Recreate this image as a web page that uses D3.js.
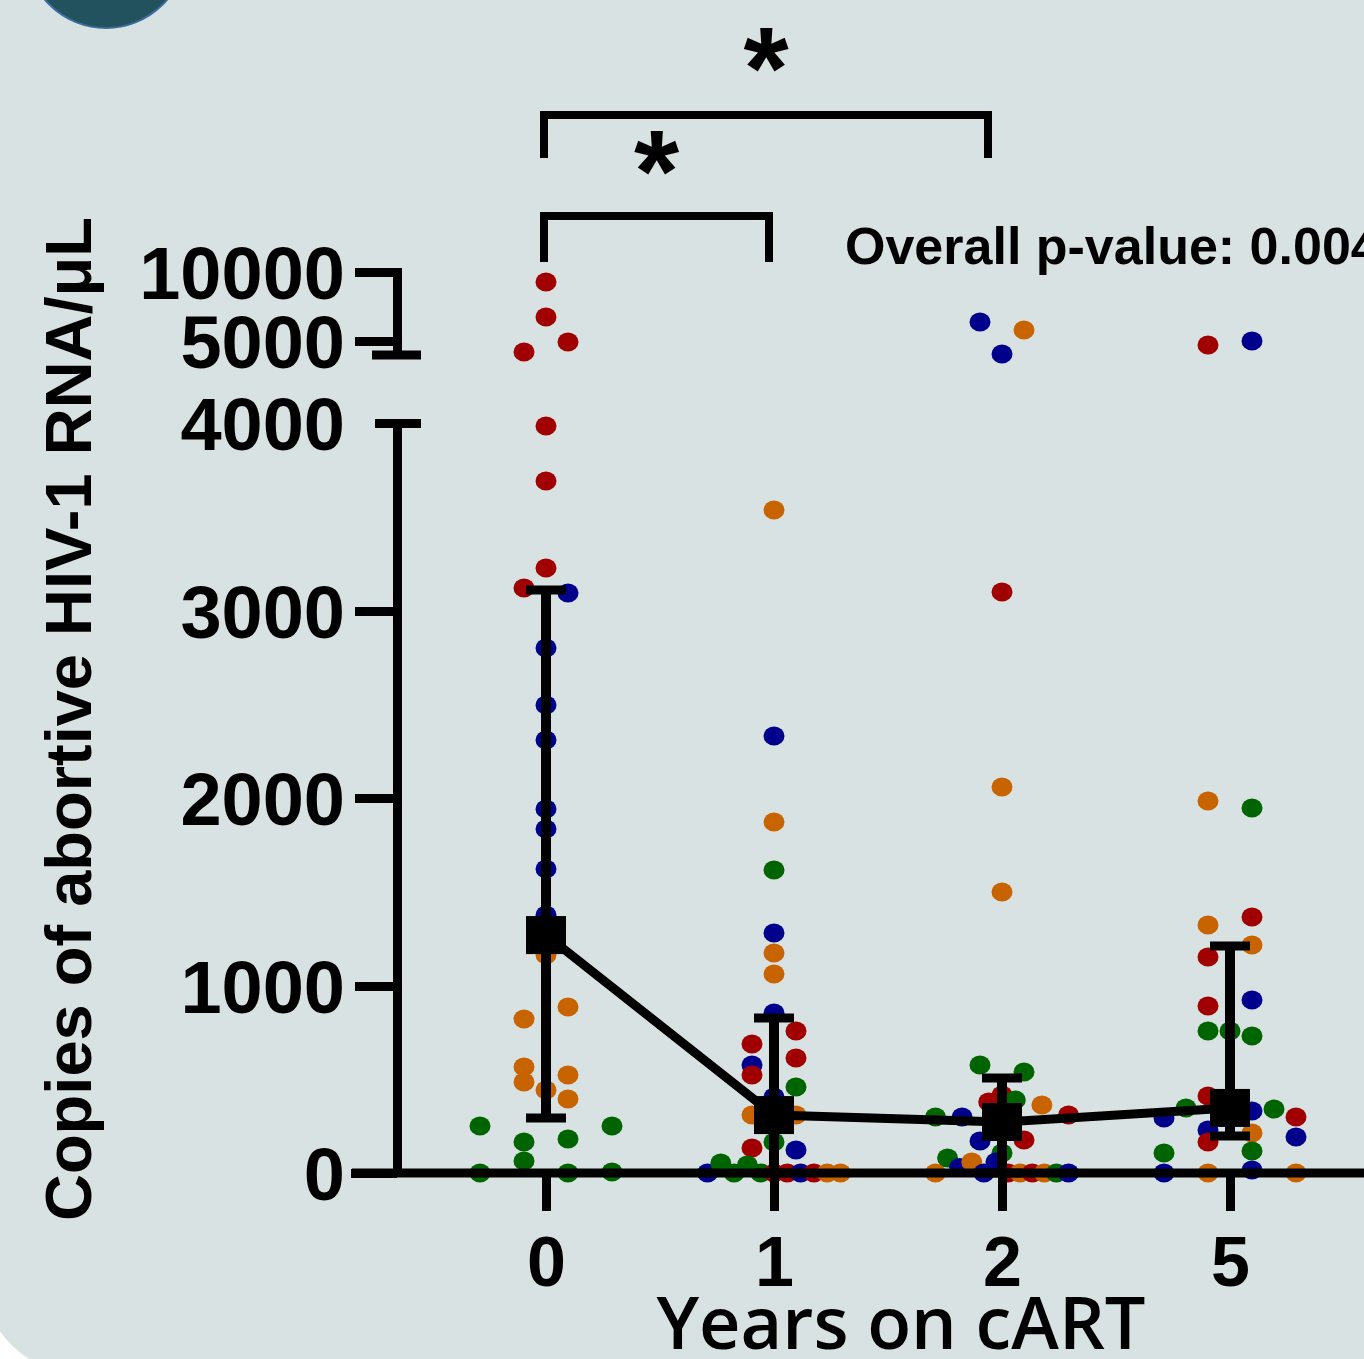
<!DOCTYPE html>
<html lang="en">
<head>
<meta charset="utf-8"/>
<title>Abortive HIV-1 RNA</title>
<style>
    body { margin: 0; background: #ffffff; }
    .axis path, .axis line { fill: none; stroke: #000; stroke-width: 9; shape-rendering: crispEdges; }
    .axis text { font: bold 74px "Liberation Sans", Arial, sans-serif; fill: #000; }
    .xaxis text { font-size: 70px; }
</style>
</head>
<body>
<div id="graph"></div>
<script src="https://d3js.org/d3.v7.min.js"></script>
<script>
    // years on cART (categories) and donors (colour series)
    var years = ["0", "1", "2", "5"];
    var donors = ["A", "B", "C", "D"];
    var donorColors = ["#a00000", "#00008c", "#006400", "#c86400"];

    // copies per group, [donor, value]; order inside a row of dots follows list order
    var yr0 = [
        ["A", 9277], ["A", 6747], ["A", 4217], ["A", 4940], ["A", 3984], ["A", 3691], ["A", 3227], ["A", 3120],
        ["B", 3093], ["B", 2800], ["B", 2496], ["B", 2309], ["B", 1941], ["B", 1835], ["B", 1621], ["B", 1376],
        ["D", 1163], ["D", 821], ["D", 885], ["D", 566], ["D", 523], ["D", 485], ["D", 443], ["D", 395],
        ["C", 251], ["C", 165], ["C", 181], ["C", 251], ["C", 0], ["C", 64], ["C", 0], ["C", 5]
    ];
    var yr1 = [
        ["D", 3536], ["B", 2331], ["D", 1872], ["C", 1616], ["B", 1280], ["D", 1173], ["D", 1061], ["B", 853],
        ["A", 688], ["A", 757], ["B", 576], ["A", 613], ["A", 523], ["C", 459],
        ["D", 309], ["B", 405], ["D", 309],
        ["A", 133], ["C", 165], ["B", 123],
        ["B", 0], ["C", 53], ["C", 0], ["C", 43], ["C", 0], ["A", 0], ["A", 0], ["B", 0], ["A", 0], ["D", 0], ["D", 0]
    ];
    var yr2 = [
        ["B", 6386], ["D", 5807], ["B", 4072], ["A", 3099], ["D", 2059], ["D", 1499],
        ["C", 576], ["C", 539], ["A", 416],
        ["C", 299], ["B", 299], ["A", 379], ["C", 390], ["D", 363], ["A", 309],
        ["B", 171], ["C", 107], ["A", 176],
        ["D", 0], ["C", 80], ["B", 30], ["D", 59], ["B", 0], ["B", 59], ["A", 0], ["D", 0], ["A", 0], ["D", 0], ["C", 0], ["B", 0]
    ];
    var yr5 = [
        ["A", 4723], ["B", 5012], ["D", 1984], ["C", 1947], ["D", 1323], ["A", 1365], ["A", 1152], ["D", 1216],
        ["A", 891], ["B", 923], ["C", 757], ["C", 757], ["C", 731],
        ["C", 347], ["A", 411], ["A", 347], ["B", 331], ["C", 341],
        ["B", 293], ["B", 229], ["D", 213], ["A", 299],
        ["C", 107], ["A", 165], ["C", 117], ["B", 192],
        ["B", 0], ["D", 0], ["B", 16], ["D", 0]
    ];
    var groups = [yr0, yr1, yr2, yr5];

    // summary line with bars
    var centers = [1269, 309, 272, 347];
    var barHigh = [3109, 827, 507, 1211];
    var barLow = [293, 0, 0, 197];

    var lowTicks = [0, 1000, 2000, 3000, 4000];
    var highTicks = [5000, 10000];
    var pText = "Overall p-value: 0.004";

    var width = 1364, height = 1359;

    var svg = d3.select("#graph").append("svg")
        .attr("width", width)
        .attr("height", height);

    // panel with rounded corner and the round badge
    svg.append("rect")
        .attr("x", -18).attr("y", -100)
        .attr("width", 1500).attr("height", 1474)
        .attr("rx", 100)
        .style("fill", "#d9e2e3");
    svg.append("circle")
        .attr("cx", 106).attr("cy", -52).attr("r", 80)
        .style("fill", "#22525e")
        .style("stroke", "#3d6b9c")
        .style("stroke-width", 2);

    var x = d3.scalePoint().domain(years).range([546, 1230]);
    var yLow = d3.scaleLinear().domain([0, 4000]).range([1173, 423]);
    var yHigh = d3.scaleLinear().domain([4000, 10000]).range([355, 272]);
    function y(v) { return v <= 4000 ? yLow(v) : yHigh(v); }

    // simple swarm: bin by pixel height, spread each bin around the centre
    function swarm(rows, xc) {
        var pts = rows.map(function (r, i) {
            return { donor: r[0], value: r[1], idx: i, py: y(r[1]) };
        });
        var sorted = pts.slice().sort(function (a, b) { return a.value - b.value || a.idx - b.idx; });
        var bins = [], cur = null;
        sorted.forEach(function (p) {
            if (cur && Math.abs(cur.start - p.py) < 19) cur.items.push(p);
            else { cur = { start: p.py, items: [p] }; bins.push(cur); }
        });
        bins.forEach(function (b) {
            b.items.sort(function (a, c) { return a.idx - c.idx; });
            var n = b.items.length;
            var step = n % 2 ? 22 : 44;
            if (n > 1) step = Math.min(step, 133 / (n - 1));
            b.items.forEach(function (p, i) { p.px = xc + (i - (n - 1) / 2) * step; });
        });
        return pts;
    }

    var color = d3.scaleOrdinal().domain(donors).range(donorColors);

    groups.forEach(function (g, gi) {
        svg.append("g").selectAll("ellipse")
            .data(swarm(g, x(years[gi])))
            .enter().append("ellipse")
            .attr("cx", function (d) { return d.px; })
            .attr("cy", function (d) { return d.py; })
            .attr("rx", 10.5).attr("ry", 9.5)
            .style("fill", function (d) { return color(d.donor); });
    });

    // axes
    var lowAxis = svg.append("g")
        .attr("class", "axis")
        .attr("transform", "translate(397,0)")
        .call(d3.axisLeft(yLow).tickValues(lowTicks).tickSize(42).tickSizeOuter(0).tickPadding(10).tickFormat(d3.format("d")));
    lowAxis.selectAll(".tick text").attr("dy", "0.36em");
    lowAxis.selectAll(".tick").filter(function (d) { return d === 4000; })
        .select("line").attr("x1", 24).attr("x2", -22);
    lowAxis.selectAll(".tick").filter(function (d) { return d === 0; })
        .select("line").attr("x2", -46);

    var highAxis = svg.append("g")
        .attr("class", "axis")
        .attr("transform", "translate(397,0)")
        .call(d3.axisLeft(yHigh).tickValues(highTicks).tickSize(42).tickSizeOuter(0).tickPadding(10).tickFormat(d3.format("d")));
    highAxis.selectAll(".tick text").attr("dy", "0.36em");
    highAxis.select(".domain").attr("d", "M0," + yHigh(4000) + "V" + (yHigh(10000) - 4));
    highAxis.selectAll(".tick").filter(function (d) { return d === 10000; })
        .select("line").attr("x1", 4);
    svg.append("line")
        .attr("x1", 372).attr("x2", 421)
        .attr("y1", yHigh(4000)).attr("y2", yHigh(4000))
        .style("stroke", "#000").style("stroke-width", 9);

    var xAxis = svg.append("g")
        .attr("class", "axis xaxis")
        .attr("transform", "translate(0,1173)")
        .call(d3.axisBottom(x).tickSize(38).tickPadding(25));
    xAxis.select(".domain").remove();
    svg.append("line")
        .attr("x1", 352).attr("x2", 1370)
        .attr("y1", 1173).attr("y2", 1173)
        .style("stroke", "#000").style("stroke-width", 9);

    // error bars, connecting line and centre markers
    var bars = svg.append("g");
    years.forEach(function (yr, i) {
        var cx = x(yr);
        bars.append("line")
            .attr("x1", cx).attr("x2", cx)
            .attr("y1", y(barHigh[i])).attr("y2", y(barLow[i]))
            .style("stroke", "#000").style("stroke-width", 10);
        [barHigh[i], barLow[i]].forEach(function (v) {
            bars.append("line")
                .attr("x1", cx - 20).attr("x2", cx + 20)
                .attr("y1", y(v)).attr("y2", y(v))
                .style("stroke", "#000").style("stroke-width", 9);
        });
    });

    var line = d3.line()
        .x(function (d, i) { return x(years[i]); })
        .y(function (d) { return y(d); });
    svg.append("path")
        .datum(centers)
        .attr("d", line)
        .style("fill", "none")
        .style("stroke", "#000")
        .style("stroke-width", 9);

    svg.append("g").selectAll("rect")
        .data(centers)
        .enter().append("rect")
        .attr("x", function (d, i) { return x(years[i]) - 20; })
        .attr("y", function (d) { return y(d) - 19; })
        .attr("width", 40).attr("height", 38)
        .style("fill", "#000");

    // significance brackets
    function bracket(a, b, inset, top, legBottom, label, starY) {
        var x1 = x(a) - 2, x2 = x(b) - inset;
        svg.append("path")
            .attr("d", "M" + x1 + "," + legBottom + "V" + top + "H" + x2 + "V" + legBottom)
            .style("fill", "none").style("stroke", "#000").style("stroke-width", 8);
        svg.append("text")
            .attr("x", (x1 + x2) / 2)
            .attr("y", starY)
            .attr("text-anchor", "middle")
            .style("font", "bold 116px 'Liberation Sans', Arial, sans-serif")
            .text(label);
    }
    bracket("0", "2", 14, 115, 158, "*", 109);
    bracket("0", "1", 5, 216, 262, "*", 212);

    svg.append("text")
        .attr("x", 845).attr("y", 264)
        .style("font", "bold 52px 'Liberation Sans', Arial, sans-serif")
        .text(pText);

    // axis titles
    svg.append("text")
        .attr("transform", "translate(91,719) rotate(-90)")
        .attr("text-anchor", "middle")
        .style("font", "bold 65px 'Liberation Sans', Arial, sans-serif")
        .text("Copies of abortive HIV-1 RNA/μL");

    svg.append("text")
        .attr("x", 901).attr("y", 1349)
        .attr("text-anchor", "middle")
        .style("font", "600 72px 'Open Sans', sans-serif")
        .text("Years on cART");
</script>
</body>
</html>
